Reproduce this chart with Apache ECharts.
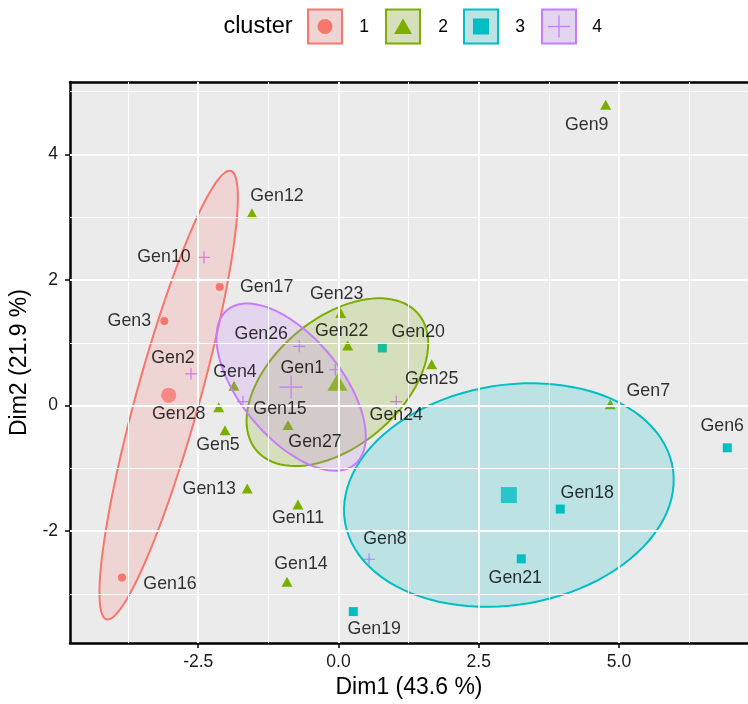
<!DOCTYPE html>
<html><head><meta charset="utf-8">
<script src="https://cdn.jsdelivr.net/npm/echarts@6/dist/echarts.min.js"></script>
<style>html,body{margin:0;padding:0;background:#fff}#c{width:748px;height:704px}</style>
</head><body><div id="c"></div>
<script>
// ---- data ----
const clusterNames = ['1', '2', '3', '4'];
const clusterColors = ['#F8766D', '#7CAE00', '#00BFC4', '#C77CFF'];

const c1Names = ['Gen3', 'Gen16', 'Gen17'];
const c1X = [-3.105, -3.859, -2.118];
const c1Y = [1.347, -2.737, 1.891];

const c2Names = ['Gen4', 'Gen5', 'Gen7', 'Gen9', 'Gen11', 'Gen12', 'Gen13', 'Gen14', 'Gen22', 'Gen23', 'Gen25', 'Gen27', 'Gen28'];
const c2X = [-1.863, -2.023, 4.845, 4.763, -0.722, -1.542, -1.626, -0.918, 0.164, 0.039, 1.661, -0.900, -2.135];
const c2Y = [0.317, -0.391, 0.021, 4.791, -1.575, 3.063, -1.322, -2.805, 0.956, 1.474, 0.659, -0.307, -0.027];

const c3Names = ['Gen6', 'Gen18', 'Gen19', 'Gen20', 'Gen21'];
const c3X = [6.930, 3.954, 0.264, 0.781, 3.258];
const c3Y = [-0.672, -1.648, -3.281, 0.919, -2.441];

const c4Names = ['Gen1', 'Gen2', 'Gen8', 'Gen10', 'Gen15', 'Gen24', 'Gen26'];
const c4X = [-0.057, -2.629, 0.544, -2.398, -1.702, 1.030, -0.699];
const c4Y = [0.571, 0.507, -2.447, 2.361, 0.063, 0.063, 0.945];

const xTickVals = [-2.5, 0, 2.5, 5];
const yTickVals = [-2, 0, 2, 4];
const xMinorVals = [-3.75, -1.25, 1.25, 3.75, 6.25];
const yMinorVals = [-3, -1, 1, 3, 5];
const xRange = [-4.786, 7.30];
const yRange = [-3.783, 5.155];
const xTitle = 'Dim1 (43.6 %)';
const yTitle = 'Dim2 (21.9 %)';
const legendTitle = 'cluster';
const ellipseLevel = 0.95;

// ---- label placement (pixel offsets of label centre from point) ----
const labelOffset = {
  Gen1: [-33, -2], Gen2: [-18, -16], Gen3: [-35, 0], Gen4: [1, -14], Gen5: [-7, 15],
  Gen6: [-5, -22], Gen7: [38, -13], Gen8: [16, -20], Gen9: [-19, 20], Gen10: [-40, 0],
  Gen11: [0, 14], Gen12: [25, -17], Gen13: [-38, 0], Gen14: [14, -18], Gen15: [37, 7],
  Gen16: [48, 7], Gen17: [47, 0], Gen18: [27, -16], Gen19: [21, 18], Gen20: [36, -16],
  Gen21: [-6, 19], Gen22: [-6, -14], Gen23: [-4, -19], Gen24: [0, 13], Gen25: [0, 15],
  Gen26: [-38, -12], Gen27: [27, 17], Gen28: [-40, 7]
};

const FONT = '"Liberation Sans", Arial, Helvetica, sans-serif';
const crossSmall = 'path://M0,9H20V11H0Z M9,0H11V20H9Z';
const crossBig = 'path://M0,9.3H20V10.7H0Z M9.3,0H10.7V20H9.3Z';
const symbols = ['circle', 'triangle', 'rect', crossSmall];
const symbolsBig = ['circle', 'triangle', 'rect', crossBig];
const sizes = [8, [11, 10], 9, 12];
const sizesBig = [15, [20, 17], 16, 23];

const clusters = [
  {names: c1Names, x: c1X, y: c1Y},
  {names: c2Names, x: c2X, y: c2Y},
  {names: c3Names, x: c3X, y: c3Y},
  {names: c4Names, x: c4X, y: c4Y}
];

function hexToRgba(hex, a) {
  const n = parseInt(hex.slice(1), 16);
  return 'rgba(' + (n >> 16 & 255) + ',' + (n >> 8 & 255) + ',' + (n & 255) + ',' + a + ')';
}
function blend(hex, a, bg) {
  const n = parseInt(hex.slice(1), 16);
  const c = [n >> 16 & 255, n >> 8 & 255, n & 255];
  return 'rgb(' + c.map((v, i) => Math.round(bg[i] * (1 - a) + v * a)).join(',') + ')';
}
function mean(a) { return a.reduce((s, v) => s + v, 0) / a.length; }

// confidence ellipse of the mean (as ggpubr stat_conf_ellipse)
function confEllipse(xs, ys, level, npoints) {
  const n = xs.length, mx = mean(xs), my = mean(ys);
  let sxx = 0, syy = 0, sxy = 0;
  for (let i = 0; i < n; i++) {
    sxx += (xs[i] - mx) ** 2; syy += (ys[i] - my) ** 2; sxy += (xs[i] - mx) * (ys[i] - my);
  }
  sxx /= (n - 1) * n; syy /= (n - 1) * n; sxy /= (n - 1) * n;
  const t = Math.sqrt(-2 * Math.log(1 - level)); // chi-square 2 df quantile
  const s1 = Math.sqrt(sxx), s2 = Math.sqrt(syy);
  const d = Math.acos(sxy / (s1 * s2));
  const pts = [];
  for (let i = 0; i < npoints; i++) {
    const a = 2 * Math.PI * i / (npoints - 1);
    pts.push([t * s1 * Math.cos(a + d / 2) + mx, t * s2 * Math.cos(a - d / 2) + my]);
  }
  return pts;
}

const series = [];
// grid lines
series.push({
  type: 'scatter', data: [], z: 1, silent: true,
  markLine: {
    silent: true, symbol: 'none', label: {show: false}, animation: false,
    data: [
      ...xMinorVals.map(v => ({xAxis: v, lineStyle: {color: '#fff', width: 1, type: 'solid'}})),
      ...yMinorVals.map(v => ({yAxis: v, lineStyle: {color: '#fff', width: 1, type: 'solid'}})),
      ...xTickVals.map(v => ({xAxis: v, lineStyle: {color: '#fff', width: 2, type: 'solid'}})),
      ...yTickVals.map(v => ({yAxis: v, lineStyle: {color: '#fff', width: 2, type: 'solid'}}))
    ]
  }
});

clusters.forEach((c, k) => {
  const col = clusterColors[k];
  // points
  series.push({
    type: 'scatter', name: clusterNames[k], z: 2, silent: true,
    symbol: symbols[k], symbolSize: sizes[k],
    itemStyle: {color: col, opacity: 1},
    data: c.names.map((nm, i) => ({name: nm, value: [c.x[i], c.y[i]]}))
  });
  // ellipse
  const ell = confEllipse(c.x, c.y, ellipseLevel, 100);
  series.push({
    type: 'custom', name: clusterNames[k] + '-ellipse', z: 3, silent: true,
    coordinateSystem: 'cartesian2d', clip: true,
    data: [[mean(c.x), mean(c.y)]],
    renderItem: function (params, api) {
      return {
        type: 'polygon',
        shape: {points: ell.map(p => api.coord(p))},
        style: {fill: hexToRgba(col, 0.2), stroke: col, lineWidth: 2}
      };
    }
  });
});
// centroids
clusters.forEach((c, k) => {
  series.push({
    type: 'scatter', z: 4, silent: true,
    symbol: symbolsBig[k], symbolSize: sizesBig[k],
    itemStyle: {color: clusterColors[k]},
    data: [[mean(c.x), mean(c.y)]]
  });
});
// labels
clusters.forEach((c, k) => {
  series.push({
    type: 'scatter', z: 5, silent: true, symbolSize: 2,
    itemStyle: {color: 'rgba(0,0,0,0)'},
    label: {show: true},
    data: c.names.map((nm, i) => ({
      name: nm, value: [c.x[i], c.y[i]],
      label: {
        show: true, position: 'inside', formatter: nm, offset: labelOffset[nm] || [0, -14],
        color: '#000', fontSize: 17.8, fontFamily: FONT, align: 'center', verticalAlign: 'middle'
      }
    }))
  });
});

// legend (drawn as graphic)
const legendEls = [];
legendEls.push({type: 'text', x: 258, y: 27, style: {text: legendTitle, font: '23.5px ' + FONT, fill: '#000', textAlign: 'center', textVerticalAlign: 'middle'}});
const boxX = [308, 386, 464, 542];
const textX = [364, 443, 520, 597];
const bgRGB = [235, 235, 235];
clusterNames.forEach((nm, k) => {
  const col = clusterColors[k];
  const bx = boxX[k], by = 9.5, bs = 34;
  const cx = bx + bs / 2, cy = by + bs / 2;
  legendEls.push({type: 'rect', shape: {x: bx, y: by, width: bs, height: bs},
    style: {fill: blend(col, 0.2, bgRGB), stroke: col, lineWidth: 2}});
  if (k === 0) legendEls.push({type: 'circle', shape: {cx: cx, cy: cy, r: 7.5}, style: {fill: col}});
  if (k === 1) legendEls.push({type: 'polygon', shape: {points: [[cx - 9, cy + 7.5], [cx + 9, cy + 7.5], [cx, cy - 8]]}, style: {fill: col}});
  if (k === 2) legendEls.push({type: 'rect', shape: {x: cx - 8, y: cy - 8, width: 16, height: 16}, style: {fill: col}});
  if (k === 3) {
    legendEls.push({type: 'line', shape: {x1: cx - 11, y1: cy, x2: cx + 11, y2: cy}, style: {stroke: col, lineWidth: 1.3}});
    legendEls.push({type: 'line', shape: {x1: cx, y1: cy - 11, x2: cx, y2: cy + 11}, style: {stroke: col, lineWidth: 1.3}});
  }
  legendEls.push({type: 'text', x: textX[k], y: cy + 1, style: {text: nm, font: '17.5px ' + FONT, fill: '#000', textAlign: 'center', textVerticalAlign: 'middle'}});
});

const chart = echarts.init(document.getElementById('c'), null, {renderer: 'canvas'});
chart.setOption({
  animation: false,
  backgroundColor: '#fff',
  grid: {left: 70, right: 0, top: 82, bottom: 58, show: true, backgroundColor: '#EBEBEB', borderWidth: 0},
  xAxis: [{
    type: 'value', min: xRange[0], max: xRange[1], position: 'bottom',
    name: xTitle, nameLocation: 'middle', nameGap: 31,
    nameTextStyle: {fontSize: 23, fontFamily: FONT, color: '#000'},
    axisLine: {show: true, onZero: false, lineStyle: {color: '#000', width: 2.5}},
    axisTick: {show: true, customValues: xTickVals, length: 5, lineStyle: {color: '#000', width: 1.5}},
    axisLabel: {customValues: xTickVals, formatter: v => Number(v).toFixed(1), fontSize: 17.5, fontFamily: FONT, color: '#1a1a1a', margin: 10},
    splitLine: {show: false}
  }, {
    type: 'value', min: xRange[0], max: xRange[1], position: 'top',
    axisLine: {show: true, onZero: false, lineStyle: {color: '#000', width: 2.5}},
    axisTick: {show: false}, axisLabel: {show: false}, splitLine: {show: false}
  }],
  yAxis: {
    type: 'value', min: yRange[0], max: yRange[1],
    name: yTitle, nameLocation: 'middle', nameGap: 36, nameRotate: 90,
    nameTextStyle: {fontSize: 23, fontFamily: FONT, color: '#000'},
    axisLine: {show: true, onZero: false, lineStyle: {color: '#000', width: 2.5}},
    axisTick: {show: true, customValues: yTickVals, length: 5, lineStyle: {color: '#000', width: 1.5}},
    axisLabel: {customValues: yTickVals, formatter: v => String(Math.round(v)), fontSize: 17.5, fontFamily: FONT, color: '#1a1a1a', margin: 12},
    splitLine: {show: false}
  },
  graphic: legendEls,
  series: series
});
</script></body></html>
